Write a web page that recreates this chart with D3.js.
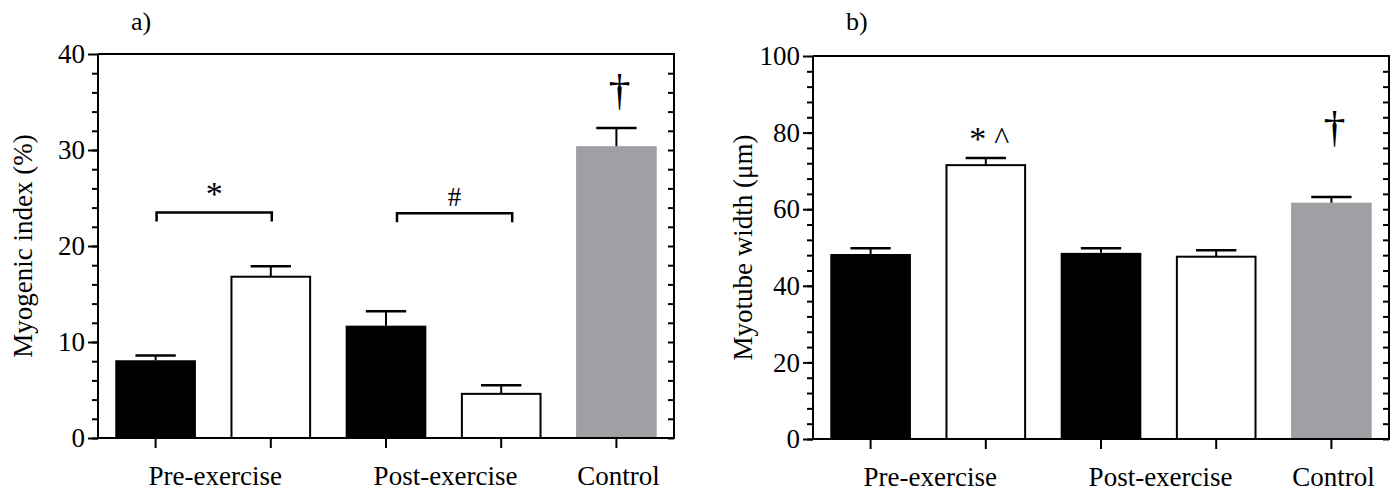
<!DOCTYPE html>
<html lang="en">
<head>
<meta charset="utf-8">
<title>Myogenic index and myotube width</title>
<script src="https://d3js.org/d3.v7.min.js"></script>
<style>
  body { margin: 0; background: #fff; }
  svg text { font-family: "Liberation Serif", "Times New Roman", serif; fill: #000; }
</style>
</head>
<body>
<script>
// bars in order: pre (black), pre (white), post (black), post (white), control (grey)
var bars = ["pre1", "pre2", "post1", "post2", "ctrl"];
var groupLabels = ["Pre-exercise", "Post-exercise", "Control"];
var groupSpans = [[0, 1], [2, 3], [4, 4]];

var myogenicMean = [8.1, 16.8, 11.7, 4.6, 30.4];
var myogenicErr  = [0.5, 1.1, 1.5, 0.9, 1.9];
var myogenicTicks = [0, 10, 20, 30, 40];

var widthMean = [48.3, 71.5, 48.6, 47.6, 61.7];
var widthErr  = [1.5, 1.9, 1.2, 1.7, 1.5];
var widthTicks = [0, 20, 40, 60, 80, 100];

// significance marks
var myogenicBrackets = [{from: 0, to: 1, y: 23.5, label: "*"}, {from: 2, to: 3, y: 23.4, label: "#"}];
var myogenicDaggers = [{bar: 4, y: 34.3}];
var widthMarks = [{bar: 1, y: 78.5}];
var widthDaggers = [{bar: 4, y: 76.5}];

var fills = {pre1: "#000", pre2: "#fff", post1: "#000", post2: "#fff", ctrl: "#a09fa4"};
var bracketShift = {"*": 1, "#": 11};

var W = 1396, H = 492;
var svg = d3.select("body").append("svg").attr("width", W).attr("height", H);

function panel(opt) {
  var g = svg.append("g");
  var x = d3.scaleBand().domain(bars).range([opt.left, opt.right])
            .paddingInner(0.3).paddingOuter(0.15);
  var y = d3.scaleLinear().domain([0, opt.max]).range([opt.bottom, opt.top]);
  var bw = x.bandwidth();
  var cx = function(i) { return x(bars[i]) + bw / 2; };

  // bars
  g.selectAll(".bar").data(bars).enter().append("rect")
    .attr("x", function(d) { return fills[d] === "#fff" ? x(d) + 1 : x(d); })
    .attr("width", function(d) { return fills[d] === "#fff" ? bw - 2 : bw; })
    .attr("y", function(d, i) { return y(opt.mean[i]); })
    .attr("height", function(d, i) { return opt.bottom - y(opt.mean[i]); })
    .attr("fill", function(d) { return fills[d]; })
    .attr("stroke", function(d) { return fills[d] === "#fff" ? "#000" : "none"; })
    .attr("stroke-width", 2);

  // error bars (upper only)
  g.selectAll(".err").data(bars).enter().append("line")
    .attr("x1", function(d, i) { return cx(i); }).attr("x2", function(d, i) { return cx(i); })
    .attr("y1", function(d, i) { return y(opt.mean[i]); })
    .attr("y2", function(d, i) { return y(opt.mean[i] + opt.err[i]); })
    .attr("stroke", "#000").attr("stroke-width", 2);
  g.selectAll(".cap").data(bars).enter().append("line")
    .attr("x1", function(d, i) { return cx(i) - bw / 4; })
    .attr("x2", function(d, i) { return cx(i) + bw / 4; })
    .attr("y1", function(d, i) { return y(opt.mean[i] + opt.err[i]); })
    .attr("y2", function(d, i) { return y(opt.mean[i] + opt.err[i]); })
    .attr("stroke", "#000").attr("stroke-width", 2.5);

  // left axis, major + minor ticks
  var left = g.append("g").attr("transform", "translate(" + opt.left + ",0)")
    .call(d3.axisLeft(y).tickValues(opt.ticks).tickSize(10).tickSizeOuter(0).tickPadding(3));
  left.select(".domain").remove();
  left.selectAll("text").style("font-size", "27px").attr("font-family", null);
  left.selectAll("line").attr("stroke-width", 2);
  var minor = d3.range(0, opt.max, opt.minor);
  g.append("g").attr("transform", "translate(" + opt.left + ",0)")
    .call(d3.axisLeft(y).tickValues(minor).tickSize(6).tickFormat(""))
    .call(function(s) { s.select(".domain").remove(); s.selectAll("line").attr("stroke-width", 2); });

  // right axis ticks pointing inwards
  g.append("g").attr("transform", "translate(" + opt.right + ",0)")
    .call(d3.axisLeft(y).tickValues(minor).tickSize(6).tickFormat(""))
    .call(function(s) { s.select(".domain").remove(); s.selectAll("line").attr("stroke-width", 2); });

  // x ticks
  g.append("g").attr("transform", "translate(0," + opt.bottom + ")")
    .call(d3.axisBottom(x).tickSize(10).tickSizeOuter(0).tickFormat(""))
    .call(function(s) { s.select(".domain").remove(); s.selectAll("line").attr("stroke-width", 2); });

  // frame
  g.append("path")
    .attr("d", "M" + opt.left + "," + opt.top + "V" + opt.bottom + "H" + opt.right + "V" + opt.top + "H" + opt.left)
    .attr("fill", "none").attr("stroke", "#000").attr("stroke-width", 2);

  // group labels
  g.selectAll(".grp").data(groupLabels).enter().append("text")
    .attr("x", function(d, i) { return (cx(groupSpans[i][0]) + cx(groupSpans[i][1])) / 2 + 2; })
    .attr("y", opt.bottom + 47)
    .attr("text-anchor", "middle").style("font-size", "27px")
    .text(function(d) { return d; });

  // y title
  g.append("text")
    .attr("transform", "translate(" + (opt.left - opt.titleGap) + "," + ((opt.top + opt.bottom) / 2) + ") rotate(-90)")
    .attr("text-anchor", "middle").attr("dy", "0.35em").style("font-size", "27px")
    .text(opt.title);

  // panel letter
  g.append("text").attr("x", opt.left + 33).attr("y", 30).style("font-size", "26px").text(opt.letter);

  // brackets
  (opt.brackets || []).forEach(function(b) {
    var yy = y(b.y), s = bracketShift[b.label];
    g.append("path")
      .attr("d", "M" + (cx(b.from) + s) + "," + (yy + 9) + "V" + yy + "H" + (cx(b.to) + s) + "V" + (yy + 9))
      .attr("fill", "none").attr("stroke", "#000").attr("stroke-width", 2.5);
    g.append("text").attr("x", (cx(b.from) + cx(b.to)) / 2 + s).attr("y", yy - 7)
      .attr("text-anchor", "middle")
      .style("font-size", b.label === "*" ? "34px" : "27px").text(b.label);
  });
  (opt.marks || []).forEach(function(m) {
    var yy = y(m.y);
    g.append("text").attr("x", cx(m.bar) - 8).attr("y", yy + 12).attr("text-anchor", "middle")
      .style("font-size", "34px").text("*");
    g.append("text").attr("x", cx(m.bar) + 16).attr("y", yy + 11).attr("text-anchor", "middle")
      .style("font-size", "32px").text("^");
  });
  (opt.daggers || []).forEach(function(m) {
    g.append("text").attr("x", cx(m.bar) + 3).attr("y", y(m.y) - 4)
      .attr("text-anchor", "middle").style("font-size", "44px").style("font-weight", "300").text("\u2020");
  });
}

panel({left: 98, right: 674, top: 54, bottom: 438, max: 40, minor: 2,
       mean: myogenicMean, err: myogenicErr, ticks: myogenicTicks,
       title: "Myogenic index (%)", letter: "a)", titleGap: 75,
       brackets: myogenicBrackets, daggers: myogenicDaggers});

panel({left: 813, right: 1389, top: 56, bottom: 439, max: 100, minor: 4,
       mean: widthMean, err: widthErr, ticks: widthTicks,
       title: "Myotube width (\u03bcm)", letter: "b)", titleGap: 70,
       marks: widthMarks, daggers: widthDaggers});
</script>
</body>
</html>
